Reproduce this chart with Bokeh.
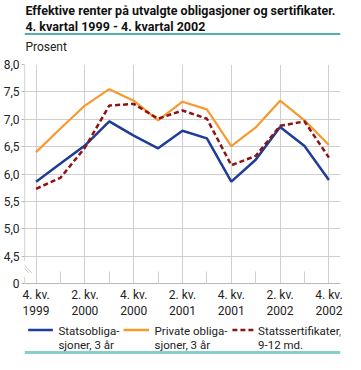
from bokeh.plotting import figure
from bokeh.layouts import column
from bokeh.models import (Range1d, FixedTicker, CustomJSTickFormatter, Arrow,
                          ColumnDataSource)
from bokeh.core.properties import value
from bokeh.embed import file_html
from bokeh.resources import INLINE

# ---------------- data ----------------
quarters = ["4. kv.\n1999", "1. kv.\n2000", "2. kv.\n2000", "3. kv.\n2000",
            "4. kv.\n2000", "1. kv.\n2001", "2. kv.\n2001", "3. kv.\n2001",
            "4. kv.\n2001", "1. kv.\n2002", "2. kv.\n2002", "3. kv.\n2002",
            "4. kv.\n2002"]
statsobligasjoner = [5.86, 6.19, 6.52, 6.96, 6.70, 6.47, 6.79, 6.65, 5.86,
                     6.26, 6.86, 6.51, 5.89]
private_obligasjoner = [6.40, 6.83, 7.25, 7.55, 7.34, 6.98, 7.32, 7.18, 6.51,
                        6.85, 7.34, 6.98, 6.53]
statssertifikater = [5.73, 5.93, 6.48, 7.25, 7.28, 7.01, 7.16, 7.01, 6.16,
                     6.33, 6.88, 6.96, 6.30]
y_ticks = [4.0, 4.5, 5.0, 5.5, 6.0, 6.5, 7.0, 7.5, 8.0]
series_names = ["Statsobliga-\nsjoner, 3 år", "Private obliga-\nsjoner, 3 år",
                "Statssertifikater,\n9-12 md."]
title_lines = ["Effektive renter på utvalgte obligasjoner og sertifikater.",
               "4. kvartal 1999 - 4. kvartal 2002"]
unit_label = "Prosent"

# ---------------- layout ----------------
W = 345
HEAD_H, MAIN_H, FOOT_H = 56, 265, 33
L, R, T, B = 23, 340, 8, 232          # main frame inside main figure
X0, X1 = -0.475, len(quarters) - 1 + 0.475
Y0, Y1 = 4.0, 8.0

FONT = "Roboto"
TXT = "#222222"
GRID = "#cfcfcf"
AXIS = "#b8b8b8"
BLUE = "#1f3c96"
ORANGE = "#f79a2e"
RED = "#8c1414"


def fx(px):
    return X0 + (px - L) / (R - L) * (X1 - X0)


def fy(py):
    return Y1 - (py - T) / (B - T) * (Y1 - Y0)


def blank(h):
    f = figure(width=W, height=h, output_backend="svg", toolbar_location=None,
               x_range=Range1d(0, W), y_range=Range1d(h, 0),
               x_axis_type=None, y_axis_type=None,
               min_border=0, min_border_left=0, min_border_right=0,
               min_border_top=0, min_border_bottom=0)
    f.outline_line_color = None
    f.grid.visible = False
    f.background_fill_color = "white"
    f.border_fill_color = "white"
    return f


# ---------- header ----------
head = blank(HEAD_H)
head.text(x=[1, 1], y=[10, 26], text=title_lines,
          text_font=value(FONT), text_font_size="12.5px",
          text_font_style="bold", text_color="#111111",
          text_baseline="alphabetic")
head.segment(x0=[0], y0=[33.5], x1=[W], y1=[33.5], line_color="#1a9696",
             line_width=1.3)
head.text(x=[1], y=[46.5], text=[unit_label], text_font=value(FONT),
          text_font_size="12px", text_color=TXT, text_baseline="alphabetic")

# ---------- main chart ----------
p = figure(width=W, height=MAIN_H, output_backend="svg", toolbar_location=None,
           x_range=Range1d(X0, X1), y_range=Range1d(Y0, Y1),
           min_border_left=L, min_border_right=W - R, min_border_top=T,
           min_border_bottom=MAIN_H - B)
p.outline_line_color = None
p.background_fill_color = "white"
p.border_fill_color = "white"

xa = p.xaxis[0]
xa.ticker = FixedTicker(ticks=list(range(0, len(quarters), 2)),
                        minor_ticks=list(range(1, len(quarters), 2)))
xa.major_label_overrides = {i: quarters[i] for i in range(0, len(quarters), 2)}
xa.axis_line_color = AXIS
xa.major_tick_in = 0
xa.major_tick_out = 0
xa.minor_tick_in = 12
xa.minor_tick_out = 0
xa.minor_tick_line_color = GRID
xa.major_label_standoff = 4
xa.major_label_text_font = FONT
xa.major_label_text_font_size = "12px"
xa.major_label_text_color = TXT

ya = p.yaxis[0]
ya.ticker = FixedTicker(ticks=y_ticks)
ya.formatter = CustomJSTickFormatter(
    code="return tick < 4.25 ? '0' : tick.toFixed(1).replace('.', ',');")
ya.axis_line_color = None
ya.major_tick_in = 0
ya.major_tick_out = 3
ya.major_tick_line_color = AXIS
ya.minor_tick_line_color = None
ya.major_label_standoff = 2
ya.major_label_text_font = FONT
ya.major_label_text_font_size = "12px"
ya.major_label_text_color = TXT

p.xgrid.ticker = FixedTicker(ticks=list(range(0, len(quarters), 2)))
p.ygrid.ticker = FixedTicker(ticks=[t for t in y_ticks if t > 4.25])
p.xgrid.grid_line_color = GRID
p.ygrid.grid_line_color = GRID

# broken y axis line
for ys, ye in [(Y1, fy(209)), (fy(225), Y0)]:
    p.add_layout(Arrow(end=None, x_start=X0, y_start=ys, x_end=X0, y_end=ye,
                       line_color=AXIS, line_width=1.2))
for dx in (0, 3):
    p.add_layout(Arrow(end=None, x_start=fx(L - 4 + dx), y_start=fy(212),
                       x_end=fx(L + 4 + dx), y_end=fy(221),
                       line_color="#c4c4c4", line_width=1))

src = ColumnDataSource(dict(x=list(range(len(quarters))),
                            s=statsobligasjoner, pr=private_obligasjoner,
                            c=statssertifikater))
p.line("x", "s", source=src, line_color=BLUE, line_width=2.5)
p.line("x", "pr", source=src, line_color=ORANGE, line_width=2.2)
p.line("x", "c", source=src, line_color=RED, line_width=2.5, line_dash="5 3")

# ---------- footer / legend ----------
foot = blank(FOOT_H)
legend_pos = [(4, 31, 37), (108, 136, 142), (227, 252, 255)]
colors = [BLUE, ORANGE, RED]
dashes = ["solid", "solid", "5 3"]
for (xs, xe, xt), col, dash, name in zip(legend_pos, colors, dashes,
                                         series_names):
    foot.segment(x0=[xs], y0=[8.5], x1=[xe], y1=[8.5], line_color=col,
                 line_width=2.5, line_dash=dash)
    foot.text(x=[xt, xt], y=[9.5, 23], text=name.split("\n"),
              text_font=value(FONT), text_font_size="11.5px", text_color=TXT,
              text_baseline="alphabetic")
foot.segment(x0=[0], y0=[31], x1=[W], y1=[31], line_color="#86cfcc",
             line_width=3)

layout = column(head, p, foot, spacing=0)
open("out.html", "w").write(file_html(layout, INLINE))
